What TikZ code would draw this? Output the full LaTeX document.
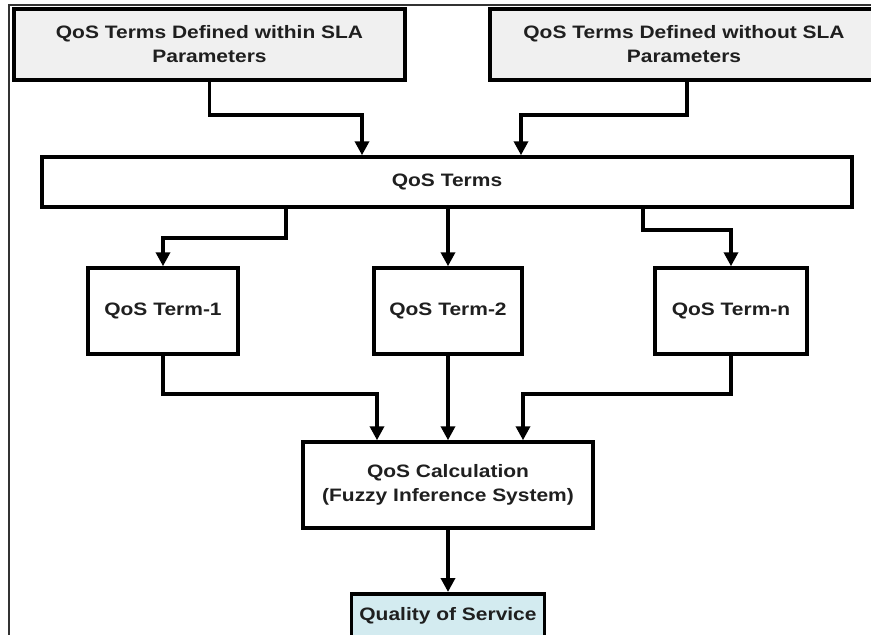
\documentclass[tikz,border=0pt]{standalone}
\usepackage{fontspec}
\setmainfont{Liberation Sans}[FakeStretch=1.165]
\usetikzlibrary{arrows.meta}
\definecolor{boxgray}{HTML}{F0F0F0}
\definecolor{qosblue}{HTML}{D3EBF0}
\tikzstyle{arrow} = [line width=3.5pt,-{Triangle[width=14pt,length=14pt]}]
\tikzstyle{block} = [draw, line width=3.5pt, align=center, inner sep=0pt, text=black!88, font=\fontsize{18}{24}\selectfont\bfseries]

\begin{document}
\begin{tikzpicture}[x=1pt, y=-1pt]
        \useasboundingbox (0,0) rectangle (871,635);
        \clip (0,0) rectangle (871,635);
        \draw[line width=1.5pt, black!80] (9,640) -- (9,5) -- (880,5);
        \node[block, fill=boxgray, minimum width=391pt, minimum height=71pt] (within) at (209.5,44.5) {QoS Terms Defined within SLA\\Parameters};
        \node[block, fill=boxgray, minimum width=388pt, minimum height=71pt] (without) at (684,44.5) {QoS Terms Defined without SLA\\Parameters};
        \node[block, minimum width=810pt, minimum height=50pt] (terms) at (447,182) {QoS Terms};
        \node[block, minimum width=150pt, minimum height=86pt] (t1) at (163,311) {QoS Term-1};
        \node[block, minimum width=148pt, minimum height=86pt] (t2) at (448,311) {QoS Term-2};
        \node[block, minimum width=152pt, minimum height=86pt] (tn) at (731,311) {QoS Term-n};
        \node[block, minimum width=290pt, minimum height=86pt] (calc) at (448,485) {QoS Calculation\\(Fuzzy Inference System)};
        \node[block, fill=qosblue, minimum width=193pt, text height=27pt, text depth=25pt, anchor=north] (qos) at (448,592) {Quality of Service};
        \draw[arrow] (within.south) -- ++(0,33) -| ([xshift=-85pt]terms.north);
        \draw[arrow] ([xshift=3pt]without.south) -- ++(0,33) -| ([xshift=74pt]terms.north);
        \draw[arrow] ([xshift=-161pt]terms.south) -- ++(0,29) -| (t1.north);
        \draw[arrow] (terms.south -| t2.north) -- (t2.north);
        \draw[arrow] ([xshift=196pt]terms.south) -- ++(0,21) -| (tn.north);
        \draw[arrow] (t1.south) -- ++(0,38) -| ([xshift=-71pt]calc.north);
        \draw[arrow] (t2.south) -- (calc.north);
        \draw[arrow] (tn.south) -- ++(0,38) -| ([xshift=75pt]calc.north);
        \draw[arrow] (calc.south) -- (qos.north);
    \end{tikzpicture}
\end{document}
